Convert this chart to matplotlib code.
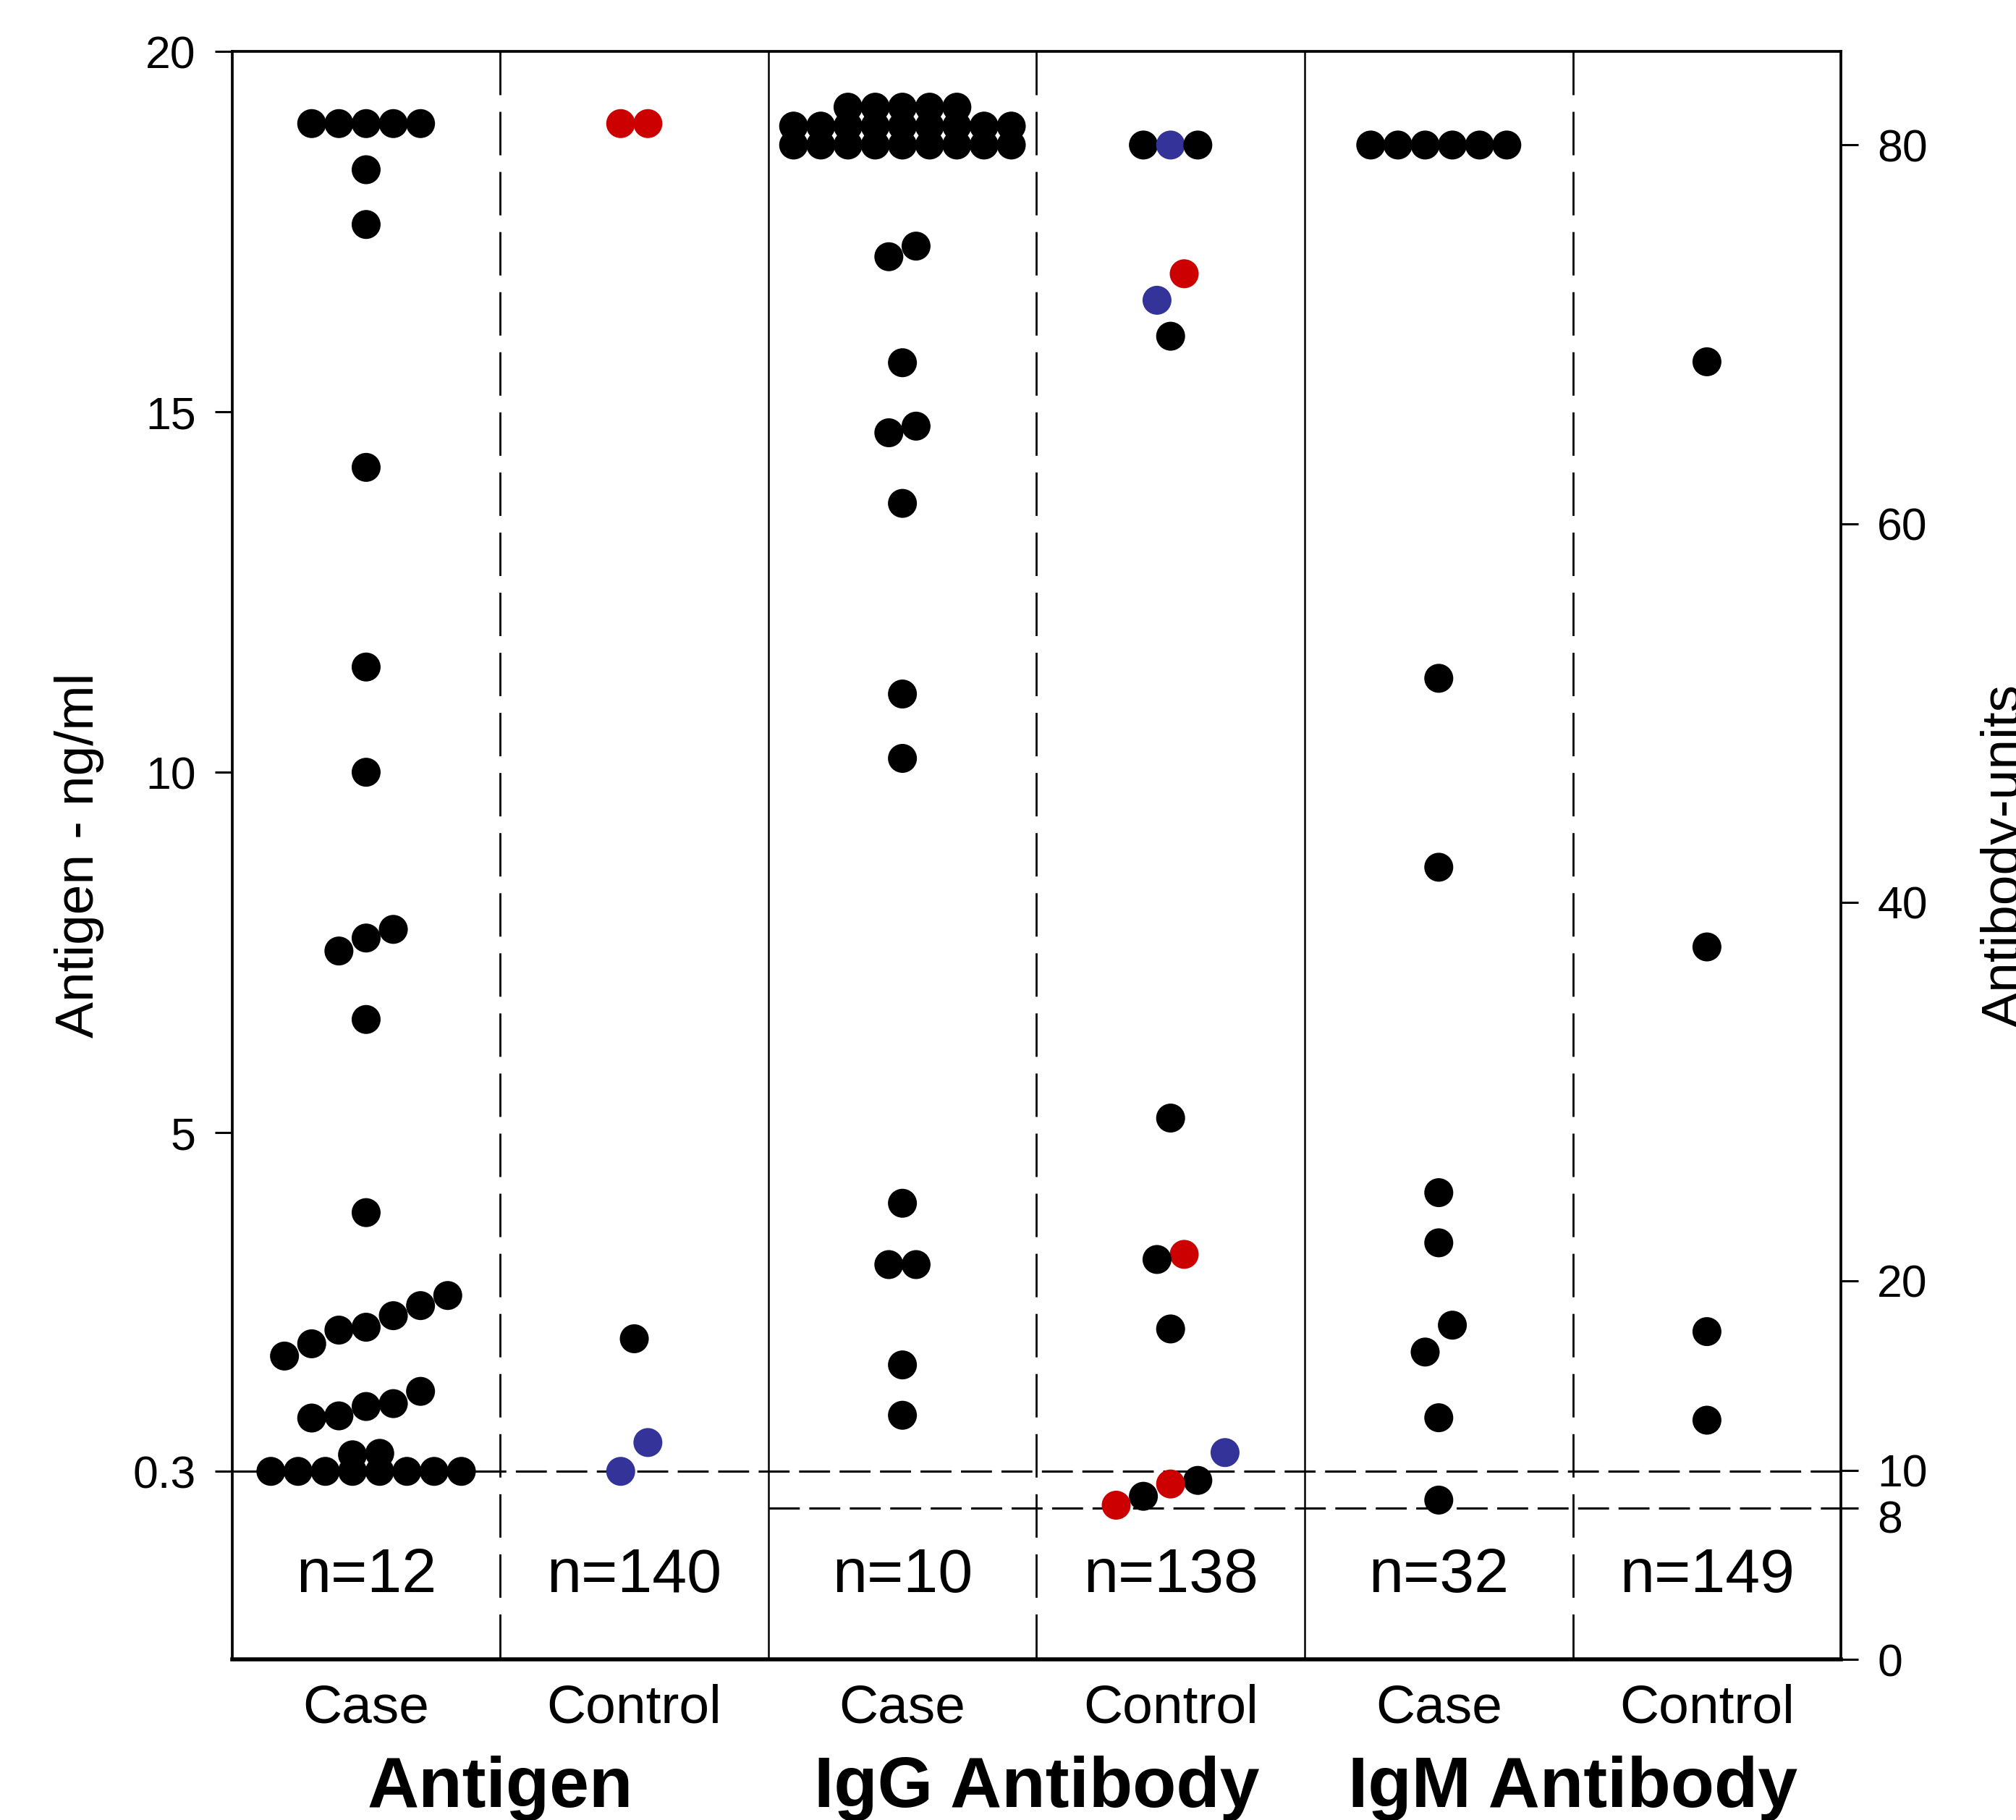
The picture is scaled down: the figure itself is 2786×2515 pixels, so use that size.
import numpy as np
import matplotlib
matplotlib.use('Agg')
import matplotlib.pyplot as plt
from matplotlib import transforms

plt.rcParams['font.family'] = ['Liberation Sans', 'DejaVu Sans']

# 类别与标签
groups = ['Antigen', 'IgG Antibody', 'IgM Antibody']
cats = ['Case', 'Control', 'Case', 'Control', 'Case', 'Control']
n_labels = ['n=12', 'n=140', 'n=10', 'n=138', 'n=32', 'n=149']

# Antigen - ng/ml (左轴)
ag_case = [19, 19, 19, 19, 19, 18.36, 17.6, 14.23, 11.46, 10.0, 7.82, 7.70, 7.52, 6.57, 3.89,
           2.74, 2.60, 2.46, 2.30, 2.26, 2.07, 1.90, 1.41, 1.24, 1.20, 1.07, 1.04, 0.55, 0.53,
           0.3, 0.3, 0.3, 0.3, 0.3, 0.3, 0.3, 0.3]
ag_ctrl = [19, 19, 2.14, 0.70, 0.3]
ag_ctrl_col = 'rrkbb'

# Antibody-units (右轴)
igg_case = [80, 80, 80, 80, 80, 80, 80, 80, 80,
            81, 81, 81, 81, 81, 81, 81, 81, 81,
            82, 82, 82, 82, 82,
            74.66, 74.1, 68.5, 65.15, 64.8, 61.07, 51.0, 47.6, 24.1, 20.86, 20.86, 15.56, 12.9]
igg_ctrl = [80, 80, 80, 73.2, 71.8, 69.9, 28.6, 21.4, 21.13, 17.46, 10.93, 9.46, 9.27, 8.62, 8.15]
igg_ctrl_col = 'kbkrbkkrkkbkrkr'
igm_case = [80, 80, 80, 80, 80, 80, 51.83, 41.85, 24.66, 22.01, 17.66, 16.24, 12.77, 8.42]
igm_ctrl = [68.55, 37.64, 17.32, 12.64]

colmap = {'k': 'black', 'r': '#CC0000', 'b': '#333399'}

fig = plt.figure(figsize=(27.86, 25.15), dpi=100)
ax = fig.add_axes([0.1151, 0.0882, 0.9132 - 0.1151, 0.9717 - 0.0882])
ax2 = ax.twinx()
ax.set_xlim(0, 6)
ax.set_ylim(-2.31, 20)
ax2.set_ylim(0, 84.94)

dot_px = 40.0
dot_pt = dot_px * 72 / fig.dpi


def swarm(a, vals, center):
    # 同一值一行, 相互重叠的点依次向右排开, 整组居中
    vals = np.asarray(vals, float)
    order = np.argsort(vals, kind='stable')
    ypx = a.transData.transform(np.column_stack([np.zeros_like(vals), vals]))[:, 1]
    x0 = a.transData.transform([[0, 0], [1, 0]])[:, 0]
    step = 0.94 * dot_px / (x0[1] - x0[0])
    runs = []
    for i in order:
        if runs and vals[runs[-1][0]] == vals[i]:
            runs[-1].append(i)
        else:
            runs.append([i])
    grp, eq = [], []
    for r in runs:
        if (grp and len(r) == 1 and not eq[-1]
                and ypx[r[0]] - ypx[grp[-1][-1]] < 1.05 * dot_px):
            grp[-1].append(r[0])
        else:
            grp.append(list(r))
            eq.append(len(r) > 1)
    xs = np.zeros_like(vals)
    for g in grp:
        m = len(g)
        for k, i in enumerate(g):
            xs[i] = center + (k - (m - 1) / 2) * step
    return xs


def draw(a, vals, center, cols=None):
    if cols is None:
        cols = 'k' * len(vals)
    xs = swarm(a, vals, center)
    a.scatter(xs, vals, s=dot_pt ** 2, c=[colmap[c] for c in cols],
              linewidths=0, zorder=5, clip_on=False)


# 分隔线
bt = transforms.blended_transform_factory(ax.transData, ax.transAxes)
for xv in [1, 3, 5]:
    ax.plot([xv, xv], [1, 0], transform=bt, color='black', lw=2.0,
            dashes=(21.6, 8.3), zorder=1)
for xv in [2, 4]:
    ax.plot([xv, xv], [1, 0], transform=bt, color='black', lw=1.8, zorder=1)

ax.axhline(0.3, color='black', lw=2.2, dashes=(14, 4.3), zorder=1)
ax2.axhline(8, xmin=2 / 6, xmax=1, color='black', lw=2.2, dashes=(14, 4.3), zorder=1)

draw(ax, ag_case, 0.5)
draw(ax, ag_ctrl, 1.5, ag_ctrl_col)
draw(ax2, igg_case, 2.5)
draw(ax2, igg_ctrl, 3.5, igg_ctrl_col)
draw(ax2, igm_case, 4.5)
draw(ax2, igm_ctrl, 5.5)

# 坐标轴
ax.set_yticks([0.3, 5, 10, 15, 20], ['0.3', '5', '10', '15', '20'])
ax2.set_yticks([0, 8, 10, 20, 40, 60, 80], ['0', '8', '10', '20', '40', '60', '80'])
ax.set_xticks([0.5, 1.5, 2.5, 3.5, 4.5, 5.5], cats)
ax.tick_params(axis='y', direction='out', length=17, width=2.2, labelsize=45, pad=19)
ax2.tick_params(axis='y', direction='out', length=17, width=2.2, labelsize=45, pad=19)
ax.tick_params(axis='x', length=0, labelsize=54, pad=24)

# "8" 稍向下, 与 "10" 不挤在一起
lab8 = ax2.yaxis.get_major_ticks()[1].label2
lab8.set_transform(lab8.get_transform()
                   + transforms.ScaledTranslation(0, -8 / 72, fig.dpi_scale_trans))

ax.spines['right'].set_visible(False)
for s in ['left', 'top', 'bottom']:
    ax2.spines[s].set_visible(False)
ax.spines['left'].set_linewidth(2.7)
ax.spines['top'].set_linewidth(2.7)
ax.spines['bottom'].set_linewidth(4.0)
ax2.spines['right'].set_linewidth(2.7)

for i, t in enumerate(n_labels):
    ax.text(i + 0.5, 0.042, t, transform=bt, ha='center', va='baseline', fontsize=62)

ft = transforms.blended_transform_factory(ax.transData, fig.transFigure)
for i, g in enumerate(groups):
    fig.text(2 * i + 1, 0.0072, g, transform=ft, ha='center', va='baseline',
             fontsize=71, fontweight='bold')

fig.text(75 / 2786, 0.530, 'Antigen - ng/ml', rotation=90, ha='left', va='center', fontsize=54)
fig.text(2737 / 2786, 0.530, 'Antibody-units', rotation=90, ha='left', va='center', fontsize=54)

fig.savefig('out.png', dpi=100)
